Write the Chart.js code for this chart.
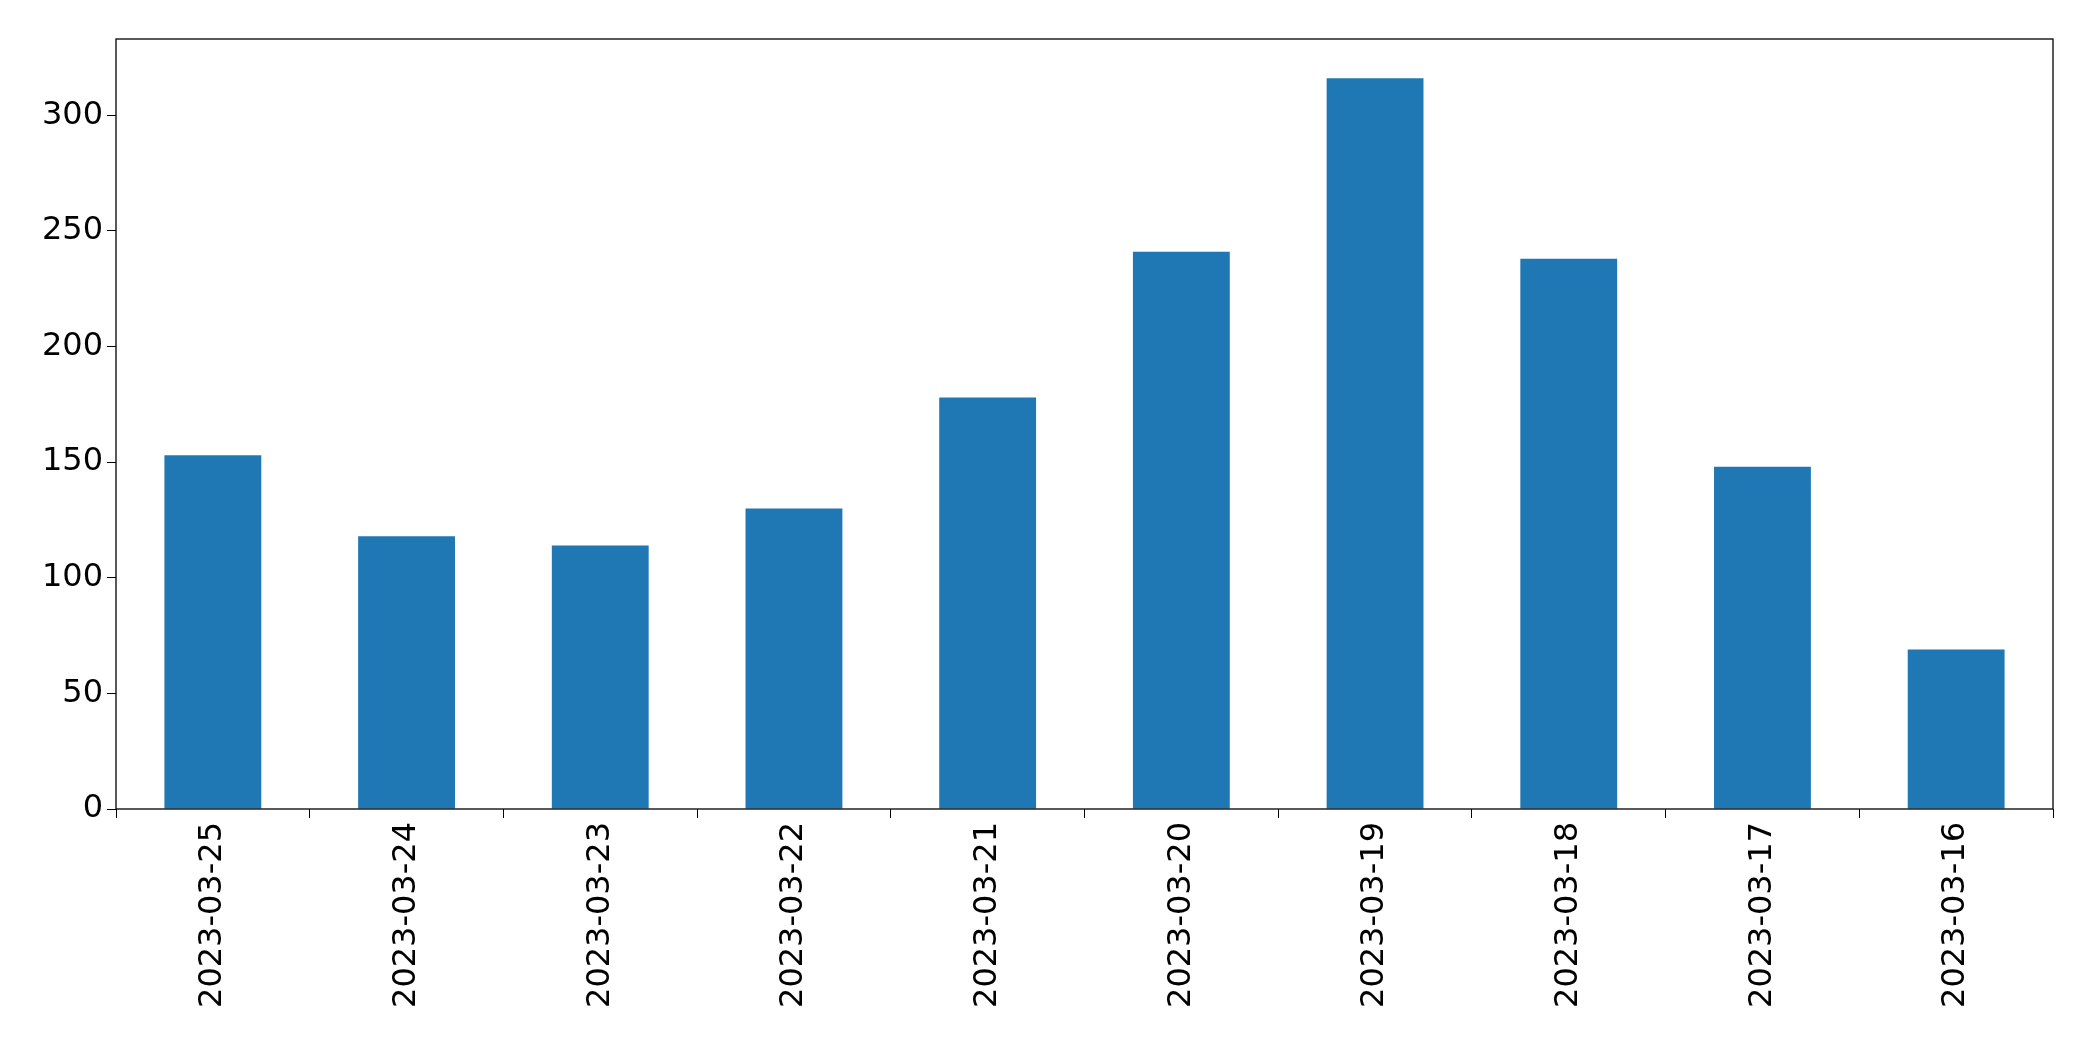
<!DOCTYPE html>
<html><head><meta charset="utf-8">
<script src="https://cdn.jsdelivr.net/npm/chart.js@4/dist/chart.umd.min.js"></script>
<style>html,body{margin:0;padding:0;background:#fff}</style>
</head><body>
<canvas id="c" width="2093" height="1061"></canvas>
<script>
const categories = ["2023-03-25","2023-03-24","2023-03-23","2023-03-22","2023-03-21","2023-03-20","2023-03-19","2023-03-18","2023-03-17","2023-03-16"];
const values = [153,118,114,130,178,241,316,238,148,69];
const yTicks = [0,50,100,150,200,250,300];

const frame = {id:'frame', afterDraw(c){const a=c.chartArea,x=c.ctx;x.save();x.strokeStyle='#000';x.lineWidth=1.3;x.strokeRect(a.left,a.top,a.right-a.left,a.bottom-a.top);x.restore();}};
new Chart(document.getElementById('c'),{
 type:'bar',
 data:{labels:categories,datasets:[{data:values,backgroundColor:'#1f77b4',categoryPercentage:1,barPercentage:0.5}]},
 options:{responsive:false,animation:false,
  layout:{padding:{top:39,right:40,left:0,bottom:0}},
  plugins:{legend:{display:false},tooltip:{enabled:false}},
  scales:{
   x:{grid:{display:true,drawOnChartArea:false,tickLength:9,color:'#000'},border:{display:false},
      ticks:{color:'#000',font:{family:'DejaVu Sans',size:32},minRotation:90,maxRotation:90,autoSkip:false,padding:4},
      afterFit(s){s.height=252;}},
   y:{min:0,max:333,grid:{display:true,drawOnChartArea:false,tickLength:9,color:'#000'},border:{display:false},
      afterBuildTicks(s){s.ticks=yTicks.map(v=>({value:v}));},
      ticks:{color:'#000',font:{family:'DejaVu Sans',size:32},padding:4},
      afterFit(s){s.width=116;}}
  }},
 plugins:[frame]
});
</script>
</body></html>
